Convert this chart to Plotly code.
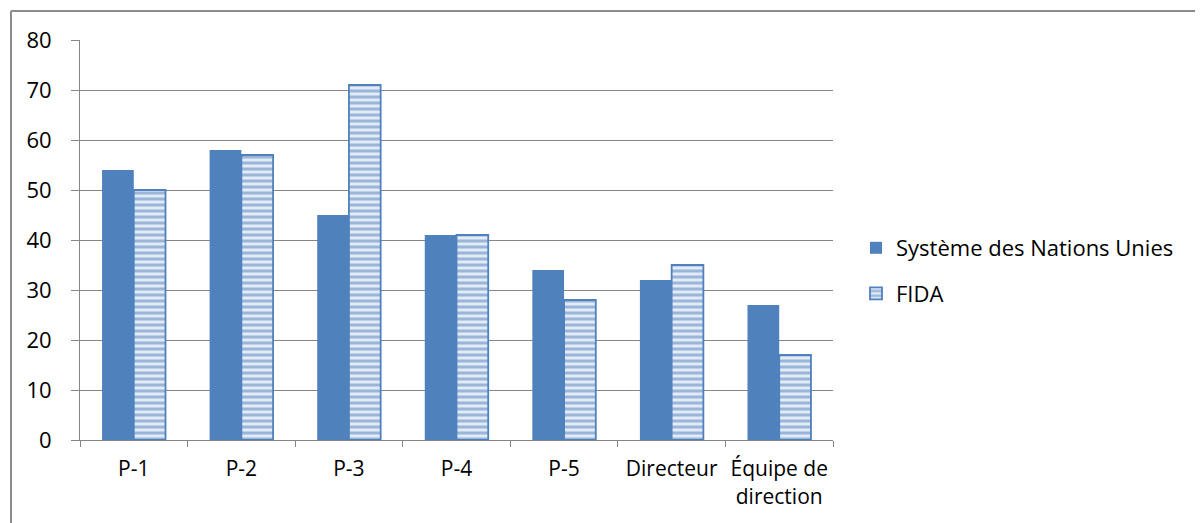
import plotly.graph_objects as go

categories = ["P-1", "P-2", "P-3", "P-4", "P-5", "Directeur", "Équipe de<br>direction"]
snu_values = [54, 58, 45, 41, 34, 32, 27]
fida_values = [50, 57, 71, 41, 28, 35, 17]
y_ticks = [0, 10, 20, 30, 40, 50, 60, 70, 80]

BLUE = "#4F81BD"
GRID = "#868686"
FONT = "Open Sans"
OFF = 8  # page body margin

fig = go.Figure()
fig.add_trace(go.Bar(
    x=categories, y=snu_values, name="Système des Nations Unies",
    marker=dict(color=BLUE, line=dict(width=0)),
    legendgroup="a",
))
fig.add_trace(go.Bar(
    x=categories, y=fida_values, name="FIDA",
    marker=dict(color="#E3EBF6", line=dict(color=BLUE, width=1.8),
                pattern=dict(shape="-", fgcolor=BLUE, bgcolor="#E3EBF6", size=6, solidity=0.5)),
    legendgroup="b",
))

W, H = 1203, 523
# target plot area in screen pixels: x 80..833, y 40..440
SL, SR, ST, SB = 80, 833, 40, 440
L = SL - OFF
T = ST - OFF
pw = SR - SL
ph = SB - ST
R = W - L - pw
B = H - T - ph

def px_x(sx):
    return (sx - SL) / pw

def px_y(sy):
    return (SB - sy) / ph

fig.update_layout(
    width=W, height=H,
    margin=dict(l=L, r=R, t=T, b=B, autoexpand=False),
    paper_bgcolor="white", plot_bgcolor="white",
    font=dict(family=FONT, size=21, color="black"),
    barmode="group", bargap=0.41, bargroupgap=0,
    showlegend=True,
    legend=dict(x=px_x(856), y=px_y(227), xanchor="left", yanchor="top",
                traceorder="grouped", tracegroupgap=14,
                font=dict(family=FONT, size=22, color="black"),
                itemwidth=30, bgcolor="rgba(0,0,0,0)"),
    xaxis=dict(showline=True, linecolor=GRID, linewidth=1,
               ticks="outside", tickson="boundaries", ticklen=6, tickcolor=GRID,
               ticklabelstandoff=10,
               tickfont=dict(size=21), showgrid=False),
    yaxis=dict(range=[0, 80], tickvals=y_ticks, showline=True, linecolor=GRID, linewidth=1,
               ticks="outside", ticklen=8, tickcolor=GRID, ticklabelstandoff=15,
               showgrid=True, gridcolor=GRID, gridwidth=1, zeroline=False,
               tickfont=dict(size=22)),
    shapes=[
        dict(type="line", xref="paper", yref="paper", x0=px_x(11), x1=px_x(1220),
             y0=px_y(11), y1=px_y(11), line=dict(color="#8C8C8C", width=2)),
        dict(type="line", xref="paper", yref="paper", x0=px_x(11), x1=px_x(11),
             y0=px_y(11), y1=px_y(540), line=dict(color="#8C8C8C", width=2)),
    ],
)

fig.write_html("out.html")
